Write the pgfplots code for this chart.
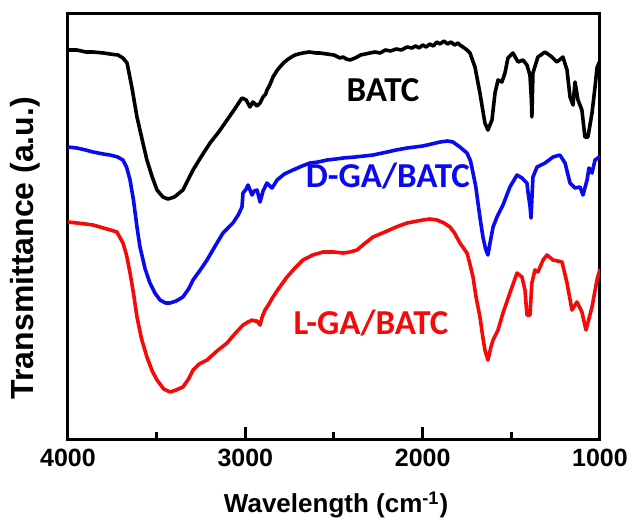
\documentclass[border=0pt]{standalone}
\usepackage{pgfplots}
\pgfplotsset{compat=1.18}
\usepackage{fontspec}
\setmainfont{Liberation Sans}
\newfontfamily\calib{Carlito}
\definecolor{myblue}{RGB}{10,10,240}
\definecolor{myred}{RGB}{245,10,10}
\begin{document}
\begin{tikzpicture}
\useasboundingbox (-34pt,-44pt) rectangle (282pt,219.5pt);
\begin{axis}[
  scale only axis,
  width=266pt, height=213pt,
  xmin=1000, xmax=4000, ymin=0, ymax=426,
  x dir=reverse,
  axis line style={line width=1.5pt},
  xtick={1000,2000,3000,4000},
  ytick=\empty,
  major tick length=0pt,
  /pgf/number format/assume math mode=true,
  /pgf/number format/set thousands separator={},
  xticklabel style={font=\fontsize{12.5}{14}\selectfont\bfseries, yshift=-1.5pt},
  xlabel={Wavelength (cm\textsuperscript{-1})},
  xlabel style={font=\fontsize{13}{15}\selectfont\bfseries, at={(axis description cs:0.504,-0.155)}, anchor=center},
  ylabel={Transmittance (a.u.)},
  ylabel style={font=\fontsize{16}{18}\selectfont\bfseries, at={(axis description cs:-0.081,0.448)}, anchor=center, rotate=0},
  clip=true,
]
% tick marks along the bottom axis (major at 3000, 2000; minor at 3500, 2500, 1500)
\addplot[black, line width=1.5pt, forget plot] coordinates {(3000,0) (3000,12)};
\addplot[black, line width=1.5pt, forget plot] coordinates {(2000,0) (2000,12)};
\addplot[black, line width=1.5pt, forget plot] coordinates {(3500,0) (3500,7)};
\addplot[black, line width=1.5pt, forget plot] coordinates {(2500,0) (2500,7)};
\addplot[black, line width=1.5pt, forget plot] coordinates {(1500,0) (1500,7)};
% BATC
\addplot[black, line width=1.8pt, line join=round] coordinates {
(4000,389) (3950,389) (3900,387) (3859,387) (3800,386) (3763,385) (3718,384) (3690,381) (3667,376)
(3640,352) (3611,322) (3580,298) (3555,279) (3525,262) (3498,249) (3465,242) (3436,240) (3400,242)
(3352,249) (3295,269) (3250,282) (3199,296) (3150,307) (3103,319) (3060,330) (3019,341) (2995,339)
(2974,332) (2957,337) (2934,333) (2917,336) (2900,342) (2885,345) (2878,349) (2865,353) (2855,357)
(2844,362) (2830,366) (2815,370) (2800,373) (2785,376) (2765,379) (2740,382) (2720,384) (2700,385)
(2675,386) (2640,387) (2600,386) (2579,386) (2540,385) (2500,384) (2466,381) (2449,382) (2430,380)
(2410,379) (2380,381) (2350,384) (2297,386) (2270,387) (2240,386) (2210,389) (2180,388) (2150,390)
(2120,389) (2088,392) (2060,391) (2040,393) (2020,391) (2000,394) (1980,392) (1960,395) (1940,393)
(1920,397) (1902,395) (1880,398) (1860,395) (1840,397) (1820,394) (1800,396) (1790,394) (1773,392)
(1750,389) (1733,386) (1705,372) (1677,346) (1649,316) (1632,309) (1609,319) (1592,346) (1575,359)
(1553,357) (1536,366) (1519,381) (1491,386) (1462,377) (1434,379) (1412,374) (1395,364) (1387,340)
(1384,322) (1381,345) (1378,366) (1350,382) (1310,387) (1271,382) (1243,377) (1209,382) (1186,369)
(1169,342) (1152,334) (1141,357) (1124,339) (1102,329) (1085,302) (1068,302) (1045,326) (1028,352)
(1017,371) (1006,376) (1000,378)
};
% D-GA/BATC
\addplot[myblue, line width=1.8pt, line join=round] coordinates {
(4000,292) (3950,291) (3900,289) (3859,287) (3800,285) (3763,284) (3720,282) (3690,279) (3670,272)
(3650,259) (3630,238) (3611,212) (3594,192) (3565,170) (3538,156) (3510,146) (3481,139) (3450,136)
(3425,136) (3390,138) (3352,142) (3320,150) (3295,159) (3250,170) (3216,179) (3170,193) (3126,206)
(3070,216) (3040,224) (3019,232) (3013,246) (2995,250) (2985,254) (2962,244) (2950,248) (2934,249)
(2925,243) (2917,237) (2900,248) (2878,256) (2850,251) (2835,255) (2821,259) (2780,265) (2731,269)
(2680,273) (2635,276) (2590,277) (2539,279) (2490,280) (2449,281) (2380,282) (2330,283) (2280,284)
(2200,287) (2150,289) (2088,291) (2000,293) (1950,295) (1902,297) (1860,298) (1829,297) (1790,292)
(1750,286) (1730,278) (1716,266) (1700,252) (1688,236) (1674,218) (1660,202) (1645,190) (1632,184)
(1618,198) (1603,212) (1581,222) (1547,234) (1508,252) (1468,264) (1440,261) (1412,256) (1406,247)
(1394,232) (1389,221) (1384,240) (1378,262) (1355,272) (1310,276) (1265,282) (1226,284) (1197,276)
(1169,256) (1141,251) (1113,252) (1096,244) (1073,259) (1062,271) (1045,266) (1028,279) (1011,281)
(1000,283)
};
% L-GA/BATC
\addplot[myred, line width=1.8pt, line join=round] coordinates {
(4000,217) (3950,216) (3900,215) (3859,214) (3800,211) (3760,209) (3724,207) (3690,196) (3670,184)
(3650,166) (3630,145) (3611,122) (3585,100) (3555,82) (3525,68) (3498,59) (3460,50) (3425,47)
(3390,49) (3352,52) (3320,60) (3295,69) (3260,75) (3216,79) (3160,88) (3103,96) (3060,105)
(3013,114) (2985,117) (2962,119) (2945,118) (2934,118) (2925,116) (2917,114) (2905,122) (2889,129)
(2870,134) (2844,142) (2810,151) (2765,162) (2720,171) (2675,179) (2620,184) (2562,187) (2500,187)
(2449,186) (2410,187) (2370,189) (2330,195) (2280,202) (2200,208) (2150,212) (2088,216) (2000,219)
(1960,220) (1919,219) (1880,216) (1846,212) (1820,206) (1790,196) (1750,186) (1735,176) (1716,162)
(1700,143) (1677,122) (1660,101) (1649,89) (1632,79) (1615,92) (1603,99) (1575,109) (1547,126)
(1508,146) (1468,166) (1440,162) (1423,149) (1412,124) (1395,124) (1384,156) (1367,169) (1350,167)
(1321,179) (1299,184) (1265,179) (1214,177) (1186,156) (1158,129) (1130,137) (1102,127) (1079,109)
(1045,132) (1017,159) (1006,166) (1000,170)
};
\node[font=\calib\fontsize{17.5}{20}\selectfont\bfseries, black] at (axis cs:2224,349) {BATC};
\node[font=\calib\fontsize{17.5}{20}\selectfont\bfseries, myblue] at (axis cs:2196,263) {D-GA/BATC};
\node[font=\calib\fontsize{17.5}{20}\selectfont\bfseries, myred] at (axis cs:2291,116) {L-GA/BATC};
\end{axis}
\end{tikzpicture}
\end{document}
